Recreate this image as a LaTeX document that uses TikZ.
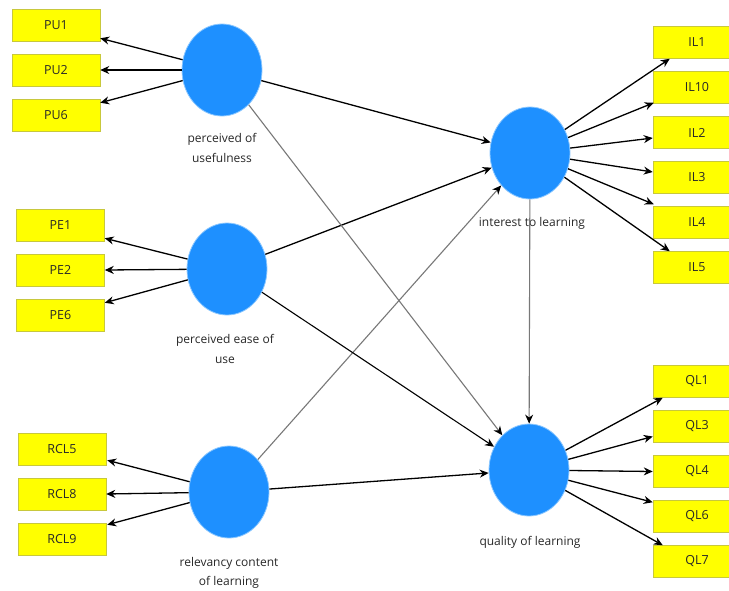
\documentclass[tikz,border=0pt]{standalone}
\usepackage{fontspec}
\setmainfont{Open Sans}
\usetikzlibrary{shapes.geometric,arrows.meta,calc}
\definecolor{lvblue}{RGB}{30,144,255}
\definecolor{lvhalo}{RGB}{140,200,255}
\definecolor{boxyellow}{RGB}{255,255,0}
\definecolor{boxedge}{RGB}{200,200,60}
\definecolor{txtgray}{RGB}{40,40,40}
\definecolor{linegray}{RGB}{120,120,120}
\begin{document}
\begin{tikzpicture}[x=1pt,y=-1pt,
  latent/.style={ellipse,fill=lvblue,draw=lvhalo,line width=0.8pt,minimum width=80pt,minimum height=92pt,inner sep=0pt},
  indicator/.style={rectangle,fill=boxyellow,draw=boxedge,line width=0.5pt,minimum width=88pt,minimum height=32pt,inner sep=0pt,text=txtgray,font=\fontsize{12.5}{14}\selectfont},
  lvlabel/.style={align=center,text=txtgray,font=\fontsize{12}{19.5}\selectfont,inner sep=0pt},
  strong/.style={draw=black,line width=1.3pt,-{Stealth[length=9pt,width=8pt]}},
  weak/.style={draw=linegray,line width=1.1pt,-{Stealth[length=9pt,width=8pt,color=black]}}
]
\useasboundingbox (0,0) rectangle (729,590);
\fill[white] (0,0) rectangle (729,590);

% latent variables
\node[latent] (PU) at (222,70) {};
\node[latent] (PE) at (227,269) {};
\node[latent] (RCL) at (229,492) {};
\node[latent] (IL) at (530,153) {};
\node[latent] (QL) at (529,470) {};

% labels
\node[lvlabel] (PUlab) at (222,148) {perceived of\\usefulness};
\node[lvlabel] (PElab) at (225,349) {perceived ease of\\use};
\node[lvlabel] (RCLlab) at (229,573) {relevancy content\\of learning};
\node[lvlabel] (ILlab) at (532,223) {interest to learning};
\node[lvlabel] (QLlab) at (530,542) {quality of learning};

% indicators left
\node[indicator] (PU1) at (56,25) {PU1};
\node[indicator] (PU2) at (56,70) {PU2};
\node[indicator] (PU6) at (56,115) {PU6};
\node[indicator] (PE1) at (60.5,225) {PE1};
\node[indicator] (PE2) at (60.5,270) {PE2};
\node[indicator] (PE6) at (60.5,315) {PE6};
\node[indicator] (RCL5) at (62,449) {RCL5};
\node[indicator] (RCL8) at (62,494) {RCL8};
\node[indicator] (RCL9) at (62,539) {RCL9};

% indicators right
\node[indicator] (IL1) at (697,42.5) {IL1};
\node[indicator] (IL10) at (697,87.5) {IL10};
\node[indicator] (IL2) at (697,132.5) {IL2};
\node[indicator] (IL3) at (697,177.5) {IL3};
\node[indicator] (IL4) at (697,222.5) {IL4};
\node[indicator] (IL5) at (697,267.5) {IL5};
\node[indicator] (QL1) at (697,381.5) {QL1};
\node[indicator] (QL3) at (697,426.5) {QL3};
\node[indicator] (QL4) at (697,471.5) {QL4};
\node[indicator] (QL6) at (697,516.5) {QL6};
\node[indicator] (QL7) at (697,561.5) {QL7};

% outer loadings (left)
\draw[strong] (PU) -- ($(PU1.south east)+(0,-3)$);
\draw[strong] (PU) -- (PU2.east);
\draw[strong] (PU) -- ($(PU6.north east)+(0,4)$);
\draw[strong] (PE) -- ($(PE1.south east)+(0,-3)$);
\draw[strong] (PE) -- (PE2.east);
\draw[strong] (PE) -- ($(PE6.north east)+(0,4)$);
\draw[strong] (RCL) -- ($(RCL5.south east)+(1,-5)$);
\draw[strong] (RCL) -- (RCL8.east);
\draw[strong] (RCL) -- ($(RCL9.north east)+(1,2)$);

% outer loadings (right)
\draw[strong] (IL) -- ($(IL1.south west)+(17,0)$);
\draw[strong] (IL) -- ($(IL10.south west)+(1,-1)$);
\draw[strong] (IL) -- ($(IL2.west)+(0,5.5)$);
\draw[strong] (IL) -- ($(IL3.west)+(0,-5.5)$);
\draw[strong] (IL) -- ($(IL4.north west)+(1,-2)$);
\draw[strong] (IL) -- ($(IL5.north west)+(17,0)$);
\draw[strong] (QL) -- ($(QL1.south west)+(10,0)$);
\draw[strong] (QL) -- ($(QL3.west)+(0,10)$);
\draw[strong] (QL) -- (QL4.west);
\draw[strong] (QL) -- ($(QL6.north west)+(0,2)$);
\draw[strong] (QL) -- ($(QL7.north west)+(10,0)$);

% structural paths
\draw[strong] (PU) -- (IL);
\draw[strong] (PE) -- (IL);
\draw[weak] (RCL) -- (IL);
\draw[weak] (PU) -- (QL);
\draw[strong,line width=1.1pt] (PE) -- (QL);
\draw[strong] (RCL) -- (QL);
\draw[weak] (IL) -- (QL);
\end{tikzpicture}
\end{document}
